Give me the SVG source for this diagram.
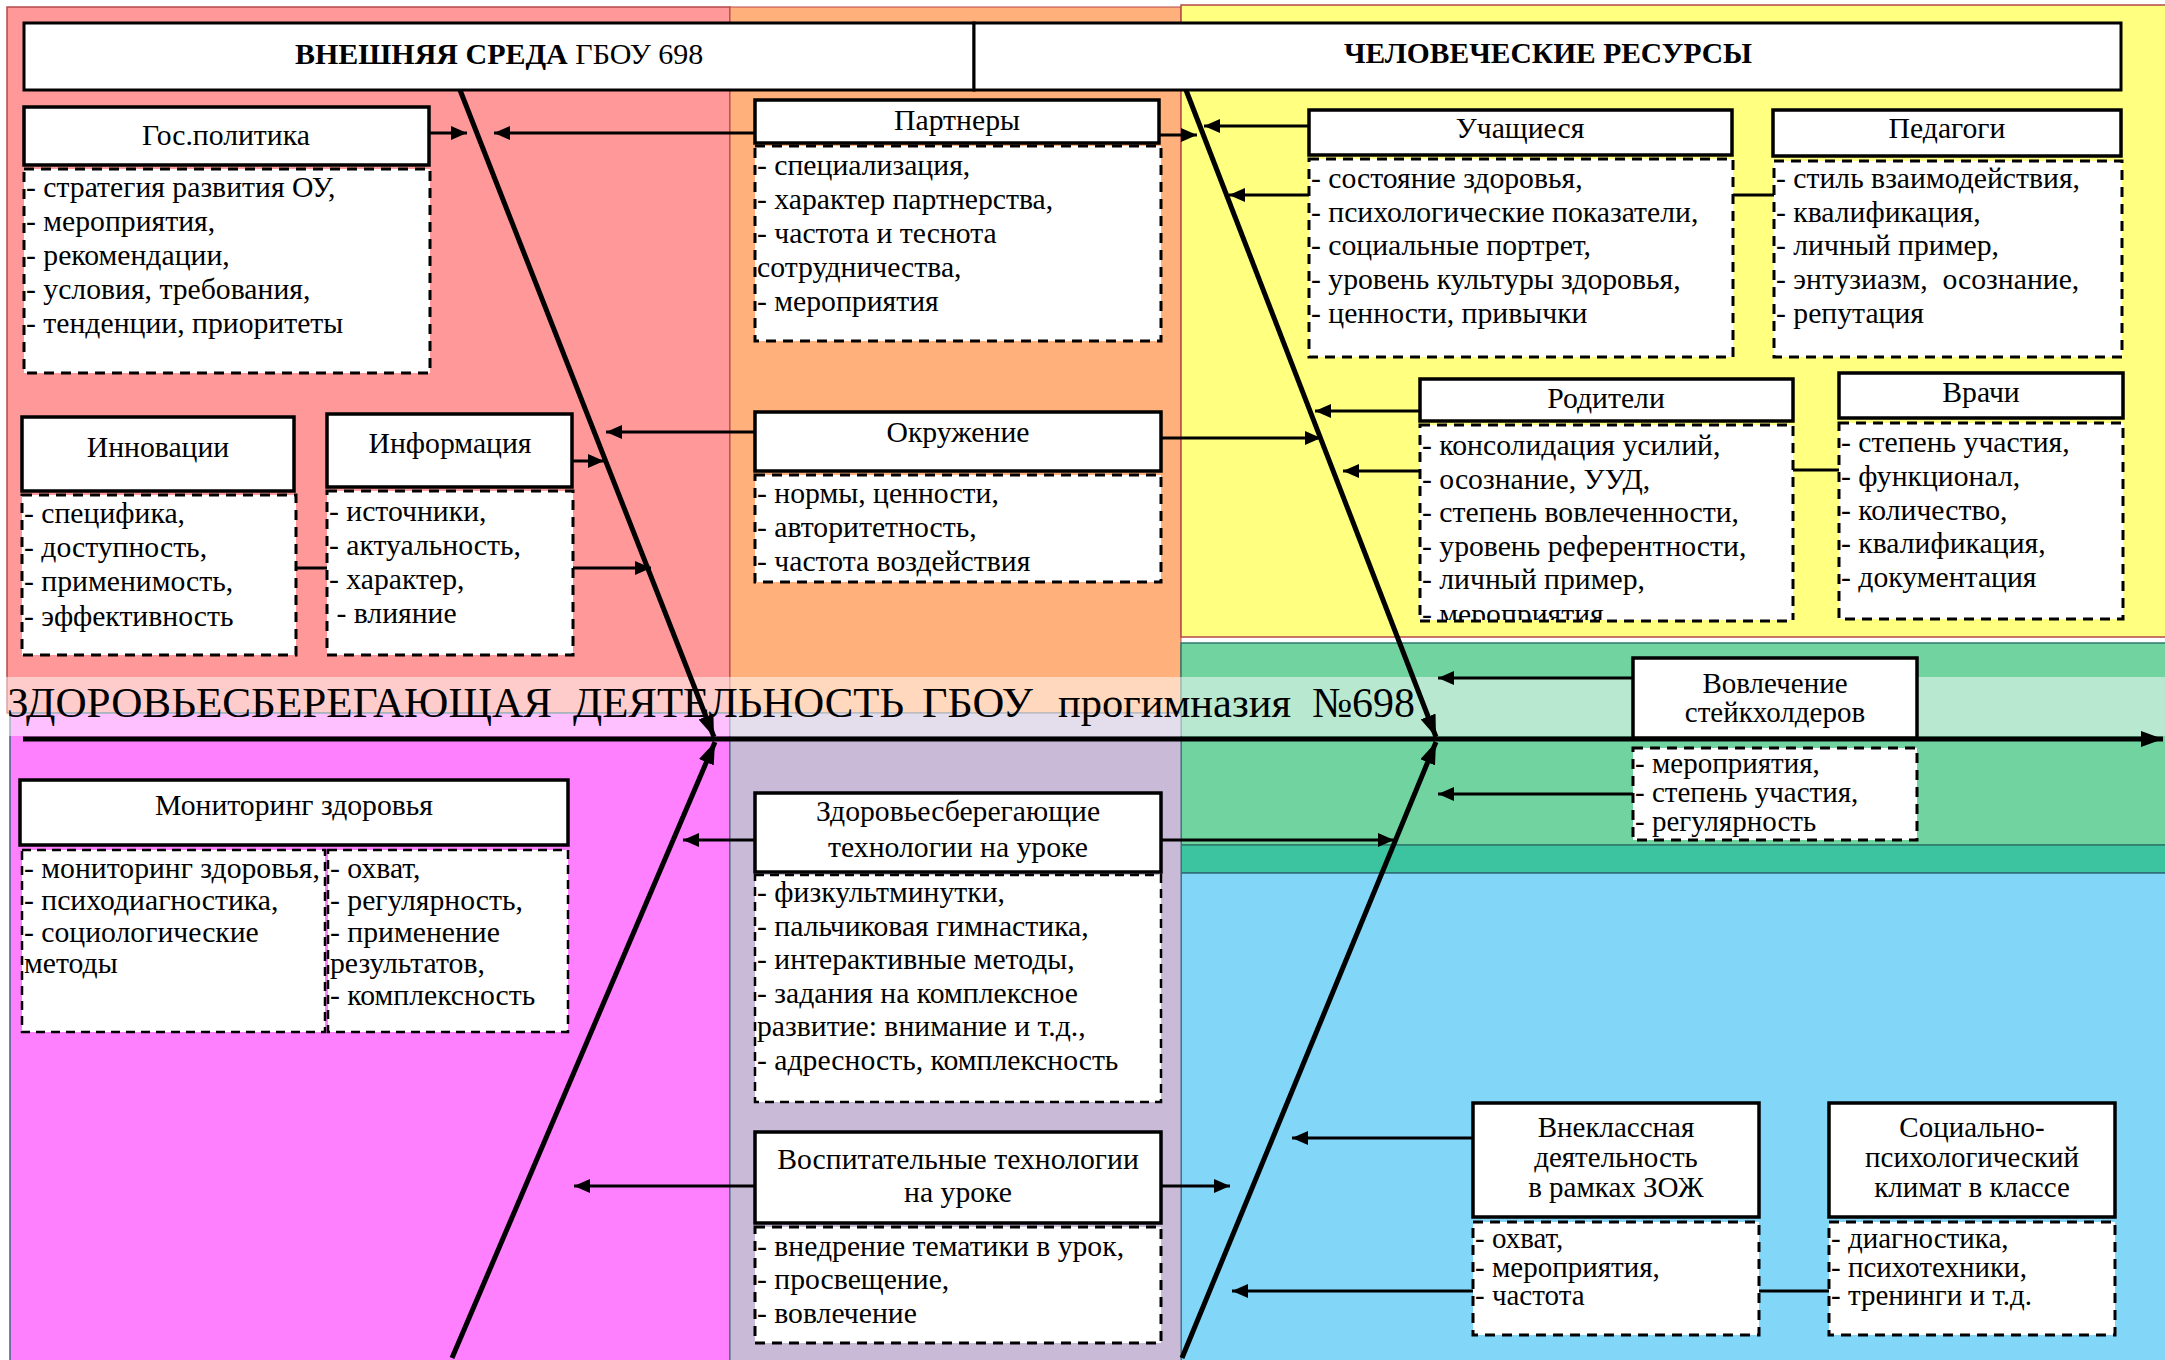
<svg xmlns="http://www.w3.org/2000/svg" width="2165" height="1360" viewBox="0 0 2165 1360">
<style>
.t{font-family:"Liberation Serif","Times New Roman",serif;font-size:29.7px;fill:#000;white-space:pre}
.s{font-size:29px}
.c{text-anchor:middle}
.b{font-weight:bold}
.hdr{fill:#fff;stroke:#000;stroke-width:3.5}
.ttl{fill:#fff;stroke:#000;stroke-width:3}
.lst{fill:#fff;stroke:#000;stroke-width:3;stroke-dasharray:10 7}
.lst2{fill:#fff;stroke:#000;stroke-width:2.5;stroke-dasharray:9 6}
.con{stroke:#000;stroke-width:3;fill:none}
.sp{stroke:#000;stroke-width:5;fill:none}
</style>
<defs>
<marker id="a" viewBox="0 0 16 14" refX="16" refY="7" markerWidth="16" markerHeight="14" orient="auto" markerUnits="userSpaceOnUse"><path d="M0,0 L16,7 L0,14 z" fill="#000"/></marker>
<marker id="ab" viewBox="0 0 22 16" refX="22" refY="8" markerWidth="22" markerHeight="16" orient="auto" markerUnits="userSpaceOnUse"><path d="M0,0 L22,8 L0,16 z" fill="#000"/></marker>
<clipPath id="clipRod"><rect x="1418" y="423" width="378" height="197"/></clipPath>
</defs>

<g id="regions">
<rect x="7" y="7" width="723" height="706" fill="#FF9999" stroke="#B5484A" stroke-width="1.5"/>
<rect x="730" y="7" width="451" height="706" fill="#FFB07B" stroke="#B5484A" stroke-width="1"/>
<rect x="1181" y="5" width="990" height="632" fill="#FFFF80" stroke="#B5484A" stroke-width="1.5"/>
<rect x="1181" y="643" width="990" height="202" fill="#71D3A0" stroke="#2E7A6A" stroke-width="1.5"/>
<rect x="1181" y="845" width="990" height="28" fill="#3CC39F" stroke="#2E7A6A" stroke-width="1.5"/>
<rect x="1181" y="873" width="990" height="490" fill="#82D7F8" stroke="#2E6A7A" stroke-width="1.5"/>
<rect x="10" y="713" width="720" height="650" fill="#FF80FF" stroke="#3A6A7A" stroke-width="1.5"/>
<rect x="730" y="713" width="451" height="650" fill="#C9BAD7" stroke="#3A6A7A" stroke-width="1"/>
</g>

<g id="band">
<rect x="0" y="677" width="2165" height="59" fill="#fff" opacity="0.5"/>
<text class="t" style="font-size:43px" y="717"><tspan x="7" textLength="545" lengthAdjust="spacingAndGlyphs">ЗДОРОВЬЕСБЕРЕГАЮЩАЯ</tspan><tspan x="573" textLength="331" lengthAdjust="spacingAndGlyphs">ДЕЯТЕЛЬНОСТЬ</tspan><tspan x="922" textLength="111" lengthAdjust="spacingAndGlyphs">ГБОУ</tspan><tspan x="1058" textLength="233" lengthAdjust="spacingAndGlyphs">прогимназия</tspan><tspan x="1312" textLength="103" lengthAdjust="spacingAndGlyphs">№698</tspan></text>
</g>

<g id="connectors">
<line class="sp" x1="23" y1="739" x2="2163" y2="739" marker-end="url(#ab)"/>
<line class="sp" x1="460" y1="90" x2="714" y2="737" marker-end="url(#ab)"/>
<line class="sp" x1="452" y1="1358" x2="715" y2="742" marker-end="url(#ab)"/>
<line class="sp" x1="1186" y1="90" x2="1436" y2="737" marker-end="url(#ab)"/>
<line class="sp" x1="1182" y1="1358" x2="1436" y2="742" marker-end="url(#ab)"/>
<line class="con" x1="429" y1="133" x2="467" y2="133" marker-end="url(#a)"/>
<line class="con" x1="755" y1="133" x2="494" y2="133" marker-end="url(#a)"/>
<line class="con" x1="572" y1="461" x2="604" y2="461" marker-end="url(#a)"/>
<line class="con" x1="573" y1="568" x2="651" y2="568" marker-end="url(#a)"/>
<line class="con" x1="296" y1="568" x2="327" y2="568"/>
<line class="con" x1="755" y1="432" x2="606" y2="432" marker-end="url(#a)"/>
<line class="con" x1="1159" y1="135" x2="1197" y2="135" marker-end="url(#a)"/>
<line class="con" x1="1161" y1="438" x2="1321" y2="438" marker-end="url(#a)"/>
<line class="con" x1="1309" y1="126" x2="1204" y2="126" marker-end="url(#a)"/>
<line class="con" x1="1309" y1="195" x2="1229" y2="195" marker-end="url(#a)"/>
<line class="con" x1="1733" y1="195" x2="1774" y2="195"/>
<line class="con" x1="1420" y1="411" x2="1315" y2="411" marker-end="url(#a)"/>
<line class="con" x1="1420" y1="471" x2="1343" y2="471" marker-end="url(#a)"/>
<line class="con" x1="1793" y1="470" x2="1839" y2="470"/>
<line class="con" x1="1633" y1="678" x2="1438" y2="678" marker-end="url(#a)"/>
<line class="con" x1="1633" y1="794" x2="1438" y2="794" marker-end="url(#a)"/>
<line class="con" x1="755" y1="840" x2="683" y2="840" marker-end="url(#a)"/>
<line class="con" x1="1161" y1="840" x2="1394" y2="840" marker-end="url(#a)"/>
<line class="con" x1="755" y1="1186" x2="574" y2="1186" marker-end="url(#a)"/>
<line class="con" x1="1161" y1="1186" x2="1230" y2="1186" marker-end="url(#a)"/>
<line class="con" x1="1473" y1="1138" x2="1292" y2="1138" marker-end="url(#a)"/>
<line class="con" x1="1473" y1="1291" x2="1232" y2="1291" marker-end="url(#a)"/>
<line class="con" x1="1759" y1="1291" x2="1829" y2="1291"/>
</g>

<g id="title-external">
<rect class="ttl" x="24" y="23" width="950" height="67"/>
<text class="t" style="font-size:30px" x="295" y="64"><tspan class="b">ВНЕШНЯЯ СРЕДА</tspan> ГБОУ 698</text>
</g>
<g id="title-human">
<rect class="ttl" x="974" y="23" width="1147" height="67"/>
<text class="t b c" style="font-size:29.5px" x="1548" y="63">ЧЕЛОВЕЧЕСКИЕ РЕСУРСЫ</text>
</g>

<g id="gospolitika">
<rect class="hdr" x="24" y="107" width="405" height="58"/>
<text class="t c" x="226" y="145">Гос.политика</text>
<rect class="lst" x="24" y="169" width="406" height="204"/>
<text class="t" x="26" y="197">- стратегия развития ОУ,</text>
<text class="t" x="26" y="231">- мероприятия,</text>
<text class="t" x="26" y="265">- рекомендации,</text>
<text class="t" x="26" y="299">- условия, требования,</text>
<text class="t" x="26" y="333">- тенденции, приоритеты</text>
</g>

<g id="innovacii">
<rect class="hdr" x="22" y="417" width="272" height="74"/>
<text class="t c" x="158" y="457">Инновации</text>
<rect class="lst" x="22" y="495" width="274" height="160"/>
<text class="t" x="24" y="523">- специфика,</text>
<text class="t" x="24" y="557">- доступность,</text>
<text class="t" x="24" y="591">- применимость,</text>
<text class="t" x="24" y="626">- эффективность</text>
</g>

<g id="informacia">
<rect class="hdr" x="327" y="414" width="245" height="73"/>
<text class="t c" x="450" y="453">Информация</text>
<rect class="lst" x="327" y="491" width="246" height="164"/>
<text class="t" x="329" y="521">- источники,</text>
<text class="t" x="329" y="555">- актуальность,</text>
<text class="t" x="329" y="589">- характер,</text>
<text class="t" x="329" y="623"> - влияние</text>
</g>

<g id="partnery">
<rect class="hdr" x="755" y="100" width="404" height="43"/>
<text class="t c" x="957" y="130">Партнеры</text>
<rect class="lst" x="755" y="146" width="406" height="195"/>
<text class="t" x="757" y="175">- специализация,</text>
<text class="t" x="757" y="209">- характер партнерства,</text>
<text class="t" x="757" y="243">- частота и теснота</text>
<text class="t" x="757" y="277">сотрудничества,</text>
<text class="t" x="757" y="311">- мероприятия</text>
</g>

<g id="okruzhenie">
<rect class="hdr" x="755" y="412" width="406" height="59"/>
<text class="t c" x="958" y="442">Окружение</text>
<rect class="lst" x="755" y="475" width="406" height="107"/>
<text class="t" x="757" y="503">- нормы, ценности,</text>
<text class="t" x="757" y="537">- авторитетность,</text>
<text class="t" x="757" y="571">- частота воздействия</text>
</g>

<g id="uchashchiesya">
<rect class="hdr" x="1309" y="110" width="423" height="45"/>
<text class="t c" x="1520" y="138">Учащиеся</text>
<rect class="lst" x="1309" y="159" width="424" height="198"/>
<text class="t" x="1311" y="188">- состояние здоровья,</text>
<text class="t" x="1311" y="222">- психологические показатели,</text>
<text class="t" x="1311" y="255">- социальные портрет,</text>
<text class="t" x="1311" y="289">- уровень культуры здоровья,</text>
<text class="t" x="1311" y="323">- ценности, привычки</text>
</g>

<g id="pedagogi">
<rect class="hdr" x="1773" y="110" width="348" height="46"/>
<text class="t c" x="1947" y="138">Педагоги</text>
<rect class="lst" x="1774" y="161" width="348" height="196"/>
<text class="t" x="1776" y="188">- стиль взаимодействия,</text>
<text class="t" x="1776" y="222">- квалификация,</text>
<text class="t" x="1776" y="255">- личный пример,</text>
<text class="t" x="1776" y="289">- энтузиазм,  осознание,</text>
<text class="t" x="1776" y="323">- репутация</text>
</g>

<g id="roditeli">
<rect class="hdr" x="1420" y="379" width="373" height="42"/>
<text class="t c" x="1606" y="408">Родители</text>
<g clip-path="url(#clipRod)">
<rect class="lst" x="1420" y="425" width="373" height="198"/>
<text class="t" x="1422" y="455">- консолидация усилий,</text>
<text class="t" x="1422" y="489">- осознание, УУД,</text>
<text class="t" x="1422" y="522">- степень вовлеченности,</text>
<text class="t" x="1422" y="556">- уровень референтности,</text>
<text class="t" x="1422" y="589">- личный пример,</text>
<text class="t" x="1422" y="624">- мероприятия</text>
</g>
<line x1="1420" y1="621" x2="1793" y2="621" stroke="#000" stroke-width="3" stroke-dasharray="10 7"/>
</g>

<g id="vrachi">
<rect class="hdr" x="1839" y="373" width="284" height="45"/>
<text class="t c" x="1981" y="402">Врачи</text>
<rect class="lst" x="1839" y="423" width="284" height="196"/>
<text class="t" x="1841" y="452">- степень участия,</text>
<text class="t" x="1841" y="486">- функционал,</text>
<text class="t" x="1841" y="520">- количество,</text>
<text class="t" x="1841" y="553">- квалификация,</text>
<text class="t" x="1841" y="587">- документация</text>
</g>

<g id="vovlechenie">
<rect class="hdr" x="1633" y="658" width="284" height="80"/>
<text class="t c s" x="1775" y="693">Вовлечение</text>
<text class="t c s" x="1775" y="722">стейкхолдеров</text>
<rect class="lst" x="1633" y="748" width="284" height="92"/>
<text class="t s" x="1635" y="773">- мероприятия,</text>
<text class="t s" x="1635" y="802">- степень участия,</text>
<text class="t s" x="1635" y="831">- регулярность</text>
</g>

<g id="monitoring">
<rect class="hdr" x="20" y="780" width="548" height="65"/>
<text class="t c" x="294" y="815">Мониторинг здоровья</text>
<rect class="lst2" x="22" y="850" width="303" height="182"/>
<rect class="lst2" x="328" y="850" width="240" height="182"/>
<text class="t" x="24" y="878">- мониторинг здоровья,</text>
<text class="t" x="24" y="910">- психодиагностика,</text>
<text class="t" x="24" y="942">- социологические</text>
<text class="t" x="24" y="973">методы</text>
<text class="t" x="330" y="878">- охват,</text>
<text class="t" x="330" y="910">- регулярность,</text>
<text class="t" x="330" y="942">- применение</text>
<text class="t" x="330" y="973">результатов,</text>
<text class="t" x="330" y="1005">- комплексность</text>
</g>

<g id="zdorov-tech">
<rect class="hdr" x="755" y="793" width="406" height="79"/>
<text class="t c" x="958" y="821">Здоровьесберегающие</text>
<text class="t c" x="958" y="857">технологии на уроке</text>
<rect class="lst2" x="755" y="875" width="406" height="227"/>
<text class="t" x="757" y="902">- физкультминутки,</text>
<text class="t" x="757" y="936">- пальчиковая гимнастика,</text>
<text class="t" x="757" y="969">- интерактивные методы,</text>
<text class="t" x="757" y="1003">- задания на комплексное</text>
<text class="t" x="757" y="1036">развитие: внимание и т.д.,</text>
<text class="t" x="757" y="1070">- адресность, комплексность</text>
</g>

<g id="vospit-tech">
<rect class="hdr" x="755" y="1132" width="406" height="91"/>
<text class="t c" x="958" y="1169">Воспитательные технологии</text>
<text class="t c" x="958" y="1202">на уроке</text>
<rect class="lst" x="755" y="1227" width="406" height="116"/>
<text class="t" x="757" y="1256">- внедрение тематики в урок,</text>
<text class="t" x="757" y="1289">- просвещение,</text>
<text class="t" x="757" y="1323">- вовлечение</text>
</g>

<g id="vneklass">
<rect class="hdr" x="1473" y="1103" width="286" height="114"/>
<text class="t c s" x="1616" y="1137">Внеклассная</text>
<text class="t c s" x="1616" y="1167">деятельность</text>
<text class="t c s" x="1616" y="1197">в рамках ЗОЖ</text>
<rect class="lst" x="1473" y="1222" width="286" height="113"/>
<text class="t s" x="1475" y="1248">- охват,</text>
<text class="t s" x="1475" y="1277">- мероприятия,</text>
<text class="t s" x="1475" y="1305">- частота</text>
</g>

<g id="socpsy">
<rect class="hdr" x="1829" y="1103" width="286" height="114"/>
<text class="t c s" x="1972" y="1137">Социально-</text>
<text class="t c s" x="1972" y="1167">психологический</text>
<text class="t c s" x="1972" y="1197">климат в классе</text>
<rect class="lst" x="1829" y="1222" width="286" height="113"/>
<text class="t s" x="1831" y="1248">- диагностика,</text>
<text class="t s" x="1831" y="1277">- психотехники,</text>
<text class="t s" x="1831" y="1305">- тренинги и т.д.</text>
</g>
</svg>
